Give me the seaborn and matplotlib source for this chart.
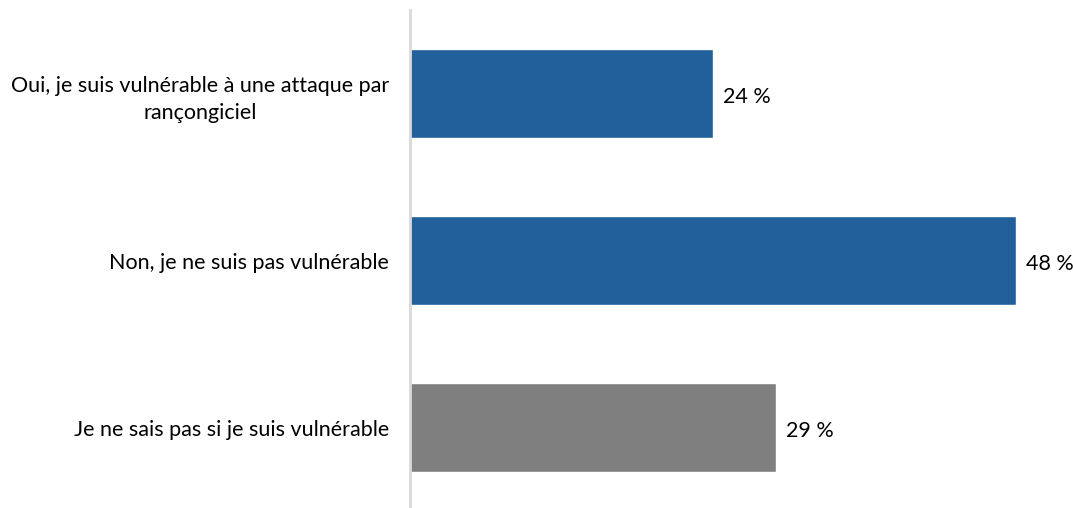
import matplotlib
matplotlib.use("Agg")
import matplotlib.pyplot as plt
import seaborn as sns
import pandas as pd

categories = ["Oui, je suis vulnérable à une attaque par\nrançongiciel",
              "Non, je ne suis pas vulnérable",
              "Je ne sais pas si je suis vulnérable"]
values = [24, 48, 29]
colors = ["#22609B", "#22609B", "#7F7F7F"]

sns.set_theme(style="white")
plt.rcParams['font.family'] = ['Lato', 'DejaVu Sans']

df = pd.DataFrame({"cat": categories, "val": values})

fig = plt.figure(figsize=(10.73, 5.08), dpi=100)
ax = fig.add_axes([410/1073, -3/508, 663/1073, 501/508])
sns.barplot(data=df, x="val", y="cat", hue="cat", palette=colors, legend=False,
            orient="h", width=0.53, ax=ax, saturation=1)

ax.set_xlim(0, 52.5)
ax.set_ylim(2.5, -0.5)
ax.set_xlabel("")
ax.set_ylabel("")
ax.set_xticks([])
for s in ["top", "right", "bottom"]:
    ax.spines[s].set_visible(False)
ax.spines["left"].set_color("#D9D9D9")
ax.spines["left"].set_linewidth(2)
ax.tick_params(axis="y", length=0, pad=15, labelsize=15.5, labelcolor="#000000")
for lbl in ax.get_yticklabels():
    lbl.set_multialignment("center")
    lbl.set_linespacing(1.45)

for i, v in enumerate(values):
    ax.text(v + 0.75, i + 0.02, f"{v} %", va="center", ha="left", fontsize=15.5, color="#000000")

fig.savefig("out.png", dpi=100)
